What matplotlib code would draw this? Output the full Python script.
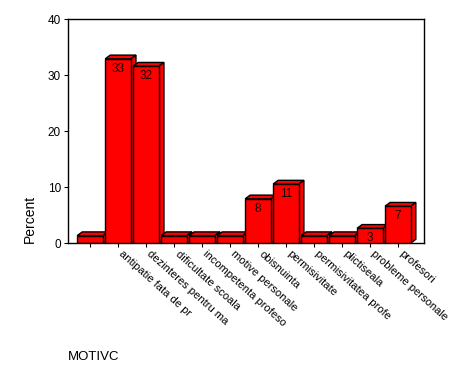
import matplotlib
matplotlib.use("Agg")
import matplotlib.pyplot as plt
from matplotlib.patches import Polygon
from matplotlib.transforms import offset_copy

categories = ["", "antipatie fata de pr", "dezinteres pentru ma", "dificultate scoala",
              "incompetenta profeso", "motive personale", "obisnuinta", "permisivitate",
              "permisivitatea profe", "plictiseala", "probleme personale", "profesori"]
percent = [1.32, 32.89, 31.58, 1.32, 1.32, 1.32, 7.89, 10.53, 1.32, 1.32, 2.63, 6.58]

plt.rcParams['font.family'] = ['Liberation Sans', 'DejaVu Sans']

fig = plt.figure(figsize=(4.74, 3.79), dpi=100)
W, H = 474, 379
L, R, T, B = 68, 424, 19, 243
ax = fig.add_axes([L / W, 1 - B / H, (R - L) / W, (B - T) / H])

ax.set_xlim(-0.79, 11.93)
ax.set_ylim(0, 40)

bw = 0.92
dx = 5 / 28.0
dy = 3.7 / 5.6
x = list(range(len(categories)))
for i, v in zip(x, percent):
    z = 2 + i
    ax.bar(i, v, width=bw, color="#ff0000", edgecolor="black", linewidth=1.0, zorder=z + 0.1)
    x0, x1 = i - bw / 2, i + bw / 2
    top = Polygon([(x0, v), (x0 + dx, v + dy), (x1 + dx, v + dy), (x1, v)],
                  closed=True, facecolor="#ff0000", edgecolor="black", linewidth=1.0, zorder=z)
    side = Polygon([(x1, 0), (x1, v), (x1 + dx, v + dy), (x1 + dx, dy)],
                   closed=True, facecolor="#ff0000", edgecolor="black", linewidth=1.0, zorder=z)
    ax.add_patch(top)
    ax.add_patch(side)
    if v >= 2.5:
        ax.annotate(f"{round(v)}", xy=(i, v), xytext=(0, -7), textcoords="offset points",
                    ha="center", va="center", fontsize=8.5, color="#1a0000", zorder=z + 0.5)

ax.set_xticks(x)
ax.set_xticklabels([])
ax.tick_params(axis="x", direction="out", length=3, width=0.8)
ax.set_yticks([0, 10, 20, 30, 40])
ax.tick_params(axis="y", direction="out", length=3, width=0.8, labelsize=8.5, pad=2)
for s in ax.spines.values():
    s.set_linewidth(1.0)

for i, lab in zip(x, categories):
    if not lab:
        continue
    tr = offset_copy(ax.transData, fig=fig, x=6, y=-6, units="dots")
    ax.text(i, 0, lab, transform=tr, rotation=-42, rotation_mode="anchor",
            ha="left", va="top", fontsize=8, clip_on=False)

fig.text(30 / W, 1 - 243 / H, "Percent", rotation=90, ha="center", va="bottom", fontsize=10)
fig.text(68 / W, 1 - 357 / H, "MOTIVC", ha="left", va="center", fontsize=9.5)

fig.savefig("out.png", dpi=100)
